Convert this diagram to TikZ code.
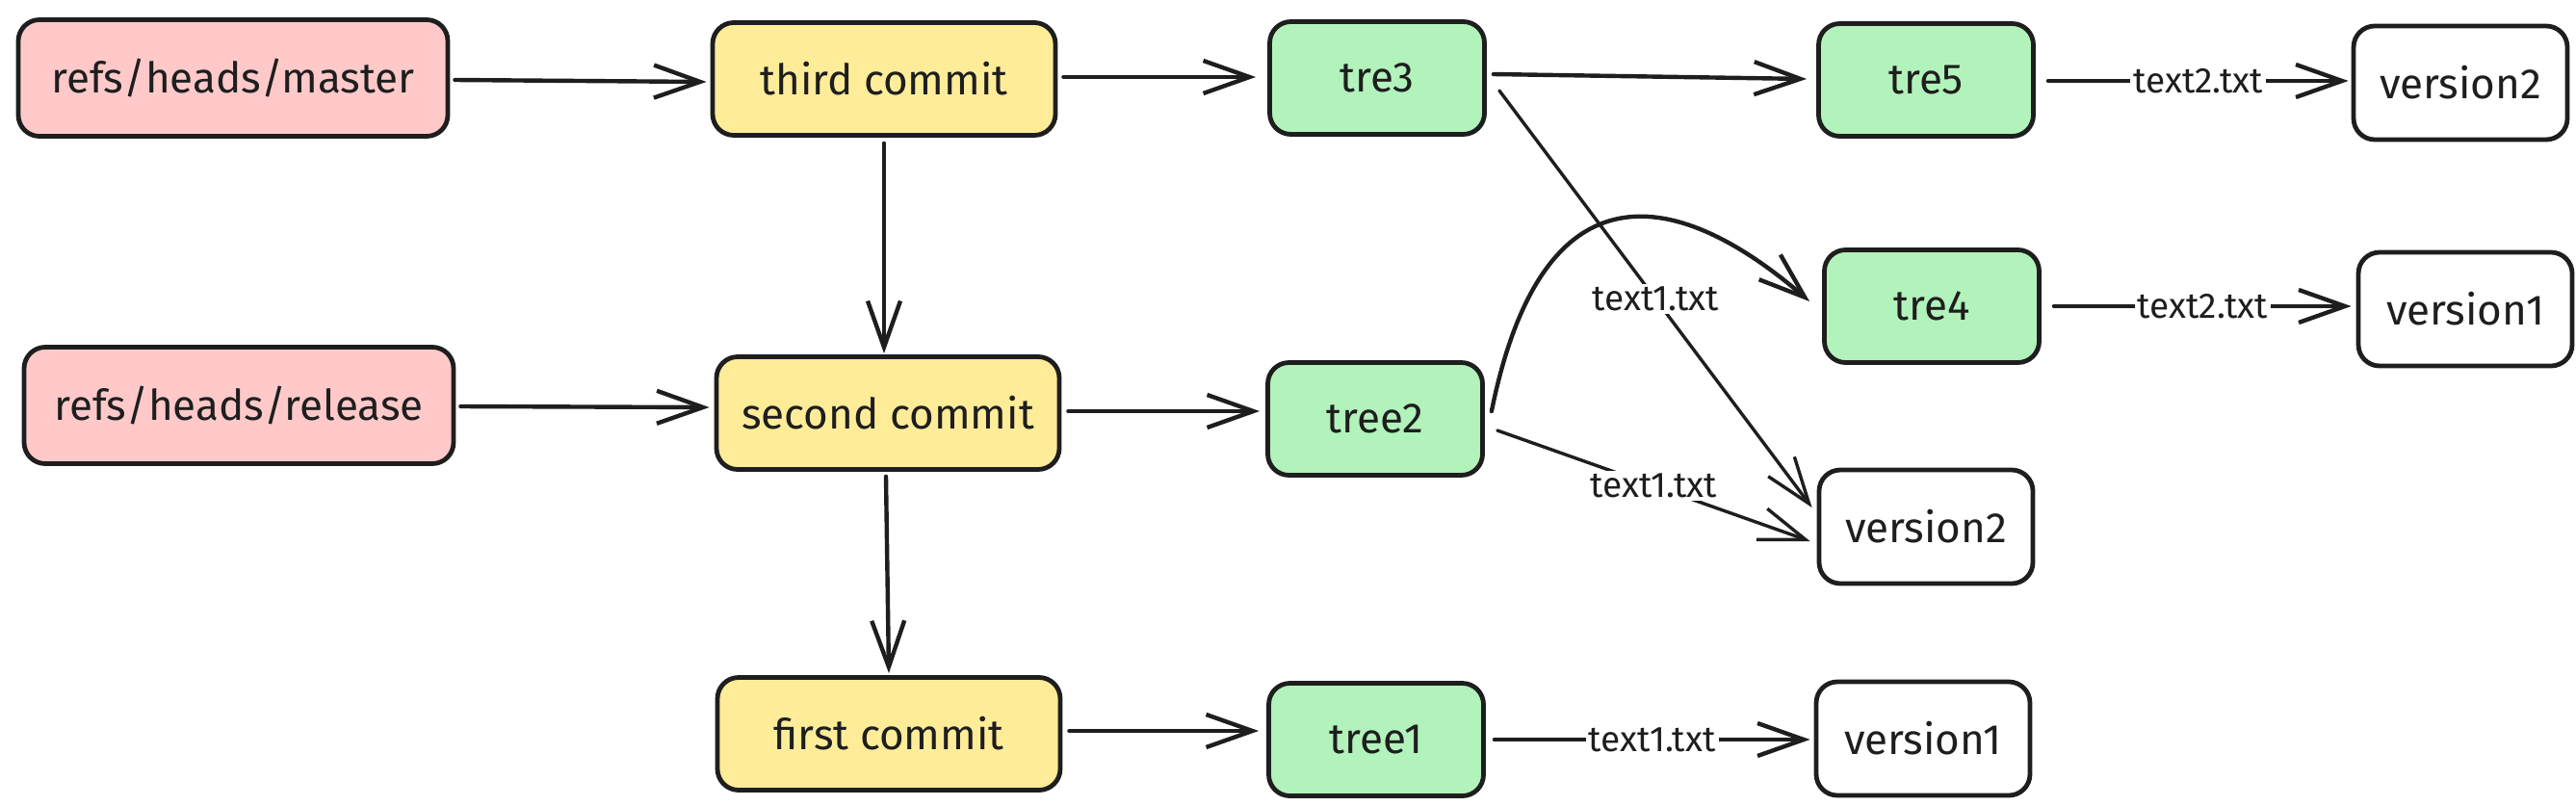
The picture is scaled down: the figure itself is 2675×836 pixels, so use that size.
\documentclass[tikz,border=0pt]{standalone}
\usepackage{fontspec}
\setmainfont{Fira Sans}
\usetikzlibrary{arrows.meta,calc}
\definecolor{ink}{HTML}{1E1E1E}
\definecolor{refc}{HTML}{FFC9C9}
\definecolor{comc}{HTML}{FFEC99}
\definecolor{treec}{HTML}{B2F2BB}
\begin{document}
\begin{tikzpicture}[x=0.5pt,y=-0.5pt,
  box/.style={draw=ink, line width=2.4pt, rounded corners=11pt, inner sep=0pt, font=\fontsize{22}{26}\selectfont, text=ink},
  refbox/.style={box, fill=refc, minimum width=223pt, minimum height=60.5pt},
  commitbox/.style={box, fill=comc, minimum width=178pt, minimum height=58.5pt},
  treebox/.style={box, fill=treec, minimum width=111.5pt, minimum height=58.5pt},
  verbox/.style={box, fill=white, minimum width=111pt, minimum height=59pt},
  link/.style={draw=ink, line width=2.2pt, line cap=round, line join=round, -{Straight Barb[length=24pt,width=17pt]}},
  thinlink/.style={link, line width=1.7pt},
  lbl/.style={fill=white, inner sep=1.5pt, font=\fontsize{18.5}{20}\selectfont, text=ink}
]
\useasboundingbox (0,0) rectangle (2675,836);
% nodes
\node[refbox] (master) at (242,81) {refs/heads/master};
\node[commitbox] (c3) at (918,82) {third commit};
\node[treebox] (tre3) at (1430,81) {tre3};
\node[treebox] (tre5) at (2000,83) {tre5};
\node[verbox] (v2a) at (2555,86) {version2};
\node[refbox] (release) at (248,421) {refs/heads/release};
\node[commitbox] (c2) at (922,429) {second commit};
\node[treebox] (tree2) at (1428,435) {tree2};
\node[treebox] (tre4) at (2006,318) {tre4};
\node[verbox] (v1a) at (2560,321) {version1};
\node[verbox] (v2b) at (2000,547) {version2};
\node[commitbox] (c1) at (923,762) {first commit};
\node[treebox] (tree1) at (1429,768) {tree1};
\node[verbox] (v1b) at (1997,767) {version1};
% connectors
\draw[link] ($(master.east)+(5,2)$) -- ($(c3.west)+(-4,3)$);
\draw[link] ($(release.east)+(5,1)$) -- ($(c2.west)+(-5,-6)$);
\draw[link] ($(c3.south)+(0,6)$) -- ($(c2.north)+(-4,-1)$);
\draw[link] ($(c2.south)+(-2,5)$) -- ($(c1.north)+(0,-2)$);
\draw[link] ($(c3.east)+(6,-2)$) -- ($(tre3.west)+(-12,-1)$);
\draw[link] ($(c2.east)+(7,-2)$) -- ($(tree2.west)+(-6,-8)$);
\draw[link] ($(c1.east)+(7,-3)$) -- ($(tree1.west)+(-8,-9)$);
\draw[link] ($(tre3.east)+(7,-4)$) -- ($(tre5.west)+(-10,-1)$);
\draw[link] ($(tree2.east)+(7,-8)$) .. controls ($(tree2.east)+(60,-270)$) and ($(tre4.west)+(-150,-123)$) .. ($(tre4.west)+(-13,-5)$);
\draw[thinlink] ($(tre3.east)+(13,13)$) -- node[lbl] (l1) {text1.txt} ($(v2b.west)+(-5,-20)$);
\draw[thinlink] ($(tree2.east)+(13,12)$) -- node[lbl] (l2) {text1.txt} ($(v2b.west)+(-7,15)$);
\draw[link] ($(tre5.east)+(13,1)$) -- node[lbl] (l3) {text2.txt} ($(v2a.west)+(-3,-2)$);
\draw[link] ($(tre4.east)+(13,0)$) -- node[lbl] (l4) {text2.txt} ($(v1a.west)+(-5,-3)$);
\draw[link] ($(tree1.east)+(9,0)$) -- node[lbl] (l5) {text1.txt} ($(v1b.west)+(-4,1)$);
\end{tikzpicture}
\end{document}
